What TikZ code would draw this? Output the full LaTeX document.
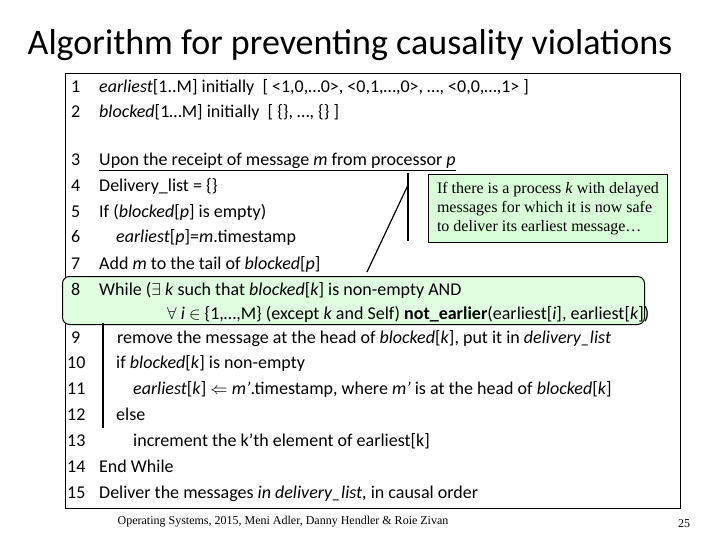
\documentclass[tikz,border=0pt]{standalone}
\usepackage{fontspec}
\setmainfont{Carlito}
\newfontfamily\tms{Liberation Serif}
\begin{document}
\begin{tikzpicture}[x=1pt,y=-1pt,
  ln/.style={anchor=base west,inner sep=0pt,font=\fontsize{18}{20}\selectfont},
  num/.style={anchor=base west,inner sep=0pt,font=\fontsize{18}{20}\selectfont}]
\useasboundingbox (0,0) rectangle (720,540);
\node[font=\fontsize{36}{40}\selectfont] (title) at (350,45) {Algorithm for preventing causality violations};
\node[draw,line width=0.8pt,minimum width=615pt,minimum height=435pt,anchor=north west,inner sep=0pt] (frame) at (65,73) {};
\node[draw,line width=1pt,rounded corners=7pt,fill=green!12,anchor=north west,minimum width=582pt,minimum height=48pt,inner sep=0pt] (hl) at (62,276) {};
\draw[line width=1.2pt] (103,323) coordinate (bt) -- (103,428) coordinate (bb);
\foreach \n/\y in {1/87,2/112,3/160,4/186,5/212,6/237,7/263,8/289,9/337}
  \node[num] (n\n) at (71,\y+6) {\n};
\foreach \n/\y in {10/362,11/388,12/414,13/440,14/466,15/492}
  \node[num] (n\n) at (67,\y+6) {\n};
\node[ln] (l1) at (99,93) {\textit{earliest}[1..M] initially \ [ <1,0,…0>, <0,1,…,0>, …, <0,0,…,1> ]};
\node[ln] (l2) at (99,118) {\textit{blocked}[1…M] initially \ [ \{\}, …, \{\} ]};
\node[ln] (l3) at (99,166) {\underline{Upon the receipt of message \textit{m} from processor \textit{p}}};
\node[ln] (l4) at (99,192) {Delivery\_list = \{\}};
\node[ln] (l5) at (99,218) {If (\textit{blocked}[\textit{p}] is empty)};
\node[ln] (l6) at (116,243) {\textit{earliest}[\textit{p}]=\textit{m}.timestamp};
\node[ln] (l7) at (99,269) {Add \textit{m} to the tail of \textit{blocked}[\textit{p}]};
\node[ln] (l8) at (99,295) {While ($\exists$ \textit{k} such that \textit{blocked}[\textit{k}] is non-empty AND};
\node[ln] (l8b) at (167,319) {$\forall$ \textit{i} $\in$ \{1,…,M\} (except \textit{k} and Self) \textbf{not\_earlier}(earliest[\textit{i}], earliest[\textit{k}])};
\node[ln] (l9) at (117,343) {remove the message at the head of \textit{blocked}[\textit{k}], put it in \textit{delivery\_list}};
\node[ln] (l10) at (116,368) {if \textit{blocked}[\textit{k}] is non-empty};
\node[ln] (l11) at (133,394) {\textit{earliest}[\textit{k}] $\Leftarrow$ \textit{m'}.timestamp, where \textit{m'} is at the head of \textit{blocked}[\textit{k}]};
\node[ln] (l12) at (116,420) {else};
\node[ln] (l13) at (133,446) {increment the k'th element of earliest[k]};
\node[ln] (l14) at (99,472) {End While};
\node[ln] (l15) at (99,498) {Deliver the messages \textit{in delivery\_list}, in causal order};
\node[draw,line width=1pt,fill=green!15,anchor=north west,minimum width=239pt,minimum height=68pt,align=left,font=\tms\fontsize{16}{19}\selectfont,inner sep=3pt] (call) at (428,174) {If there is a process \textit{k} with delayed\\messages for which it is now safe\\to deliver its earliest message…};
\draw[line width=1.2pt] (408,173) coordinate (vt) -- (408,241) coordinate (vb);
\coordinate (tip) at (367,272);
\draw[line width=1.2pt] (408,185) -- (tip);
\node[font=\tms\fontsize{12}{14}\selectfont] (foot) at (283,522) {Operating Systems, 2015, Meni Adler, Danny Hendler \& Roie Zivan};
\node[font=\tms\fontsize{12}{14}\selectfont] (pg) at (684,524) {25};
\end{tikzpicture}
\end{document}
